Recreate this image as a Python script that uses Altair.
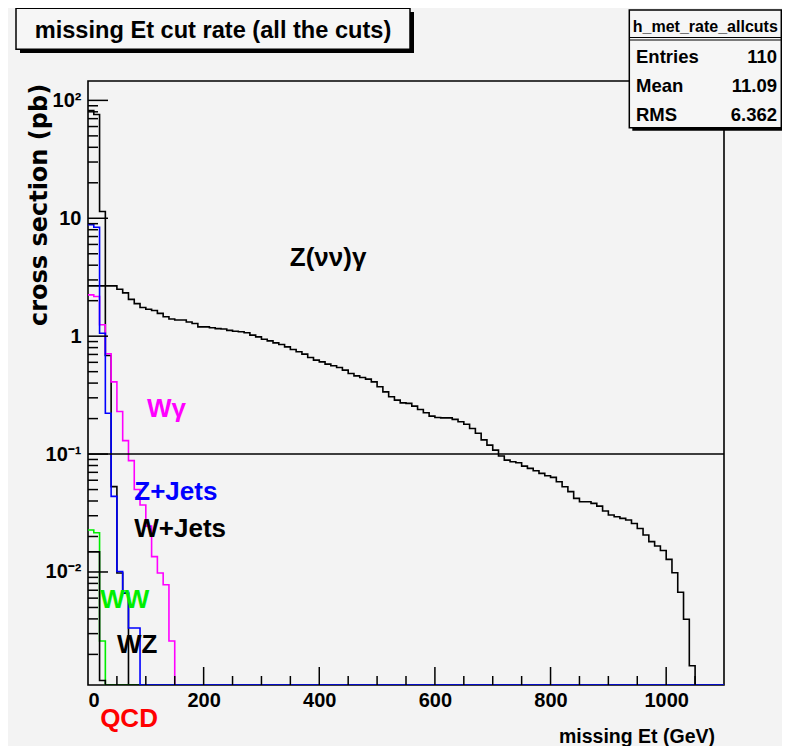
import altair as alt
import pandas as pd

# ---------------- data (cross section in pb per 10 GeV bin, starting at 0 GeV) ----------------
BIN_WIDTH = 10
N_BINS = 110
Y_MIN, Y_MAX = 0.0011, 146.0

zgamma = [2.67, 2.67, 2.67, 2.67, 2.67, 2.50, 2.33, 2.05, 1.89, 1.75,
          1.69, 1.65, 1.56, 1.46, 1.40, 1.37, 1.37, 1.32, 1.28, 1.20,
          1.20, 1.18, 1.16, 1.15, 1.12, 1.10, 1.09, 1.07, 1.02, 0.987,
          0.943, 0.913, 0.878, 0.850, 0.812, 0.771, 0.737, 0.704, 0.659, 0.626,
          0.606, 0.579, 0.561, 0.543, 0.515, 0.483, 0.461, 0.446, 0.432, 0.410,
          0.372, 0.337, 0.306, 0.287, 0.272, 0.269, 0.255, 0.239, 0.224, 0.210,
          0.2045, 0.203, 0.203, 0.197, 0.188, 0.179, 0.165, 0.150, 0.132, 0.119,
          0.108, 0.0962, 0.0889, 0.0861, 0.0845, 0.0791, 0.0757, 0.0723, 0.0686, 0.0655,
          0.0634, 0.0583, 0.0528, 0.0480, 0.0421, 0.0394, 0.0394, 0.0382, 0.0362, 0.0329,
          0.0304, 0.0294, 0.0285, 0.0276, 0.0258, 0.0234, 0.0206, 0.0181, 0.0166, 0.0152,
          0.0128, 0.00986, 0.00673, 0.00397, 0.00160]
wjets = [82.0, 76.0, 11.4, 0.686, 0.053, 0.0098, 0.0066]
zjets = [8.8, 8.4, 1.06, 0.222, 0.0438, 0.0101, 0.0067, 0.00335, 0.00335]
wgamma = [2.24, 2.17, 1.25, 0.71, 0.41, 0.23, 0.13, 0.088, 0.050, 0.037,
          0.0245, 0.0135, 0.0098, 0.0078, 0.0026]
ww = [0.0227, 0.0215, 0.0026]
wz = [0.0148, 0.0148, 0.0012]

series_values = [zgamma, wjets, wgamma, ww, wz, zjets]
series_colors = ["#000000", "#000000", "#ff00ff", "#00ee00", "#000000", "#0000ff"]

label_text = ["Z(\u03bd\u03bd)\u03b3", "W\u03b3", "Z+Jets", "W+Jets", "WW", "WZ", "QCD"]
label_x = [349, 102, 80, 80, 21, 50, 21]          # GeV
label_y = [3.92, 0.206, 0.0408, 0.0198, 0.00495, 0.00206, 0.000486]  # pb
label_color = ["#000000", "#ff00ff", "#0000ff", "#000000", "#00ee00", "#000000", "#ff0000"]

x_major = [200, 400, 600, 800, 1000]
x_minor = [50, 100, 150, 250, 300, 350, 450, 500, 550, 650, 700, 750, 850, 900, 950, 1050]
y_major = [0.01, 0.1, 1, 10, 100]
y_minor = [m * d for d in [0.001, 0.01, 0.1, 1, 10] for m in range(2, 10)]

stats_names = ["Entries", "Mean", "RMS"]
stats_vals = ["110", "11.09", "6.362"]

# ---------------- chart ----------------
W, H = 636, 604
FONT = "Liberation Sans"

xscale = alt.Scale(domain=[0, N_BINS * BIN_WIDTH], nice=False, zero=False)
yscale = alt.Scale(type="log", domain=[Y_MIN, Y_MAX], nice=False)

xaxis = alt.Axis(values=[0] + x_major, ticks=False, domain=False, grid=False,
                 labelFont=FONT, labelFontSize=20, labelFontWeight="bold",
                 labelColor="black", labelPadding=5, title=None, format="d")
yaxis = alt.Axis(values=y_major, ticks=False, domain=False, grid=False,
                 labelFont=FONT, labelFontSize=20, labelFontWeight="bold",
                 labelColor="black", labelPadding=7, title=None,
                 labelExpr="datum.value >= 50 ? '10\u00b2' : datum.value >= 5 ? '10' : "
                           "datum.value >= 0.5 ? '1' : datum.value >= 0.05 ? '10\u207b\u00b9' : '10\u207b\u00b2'")


def X(field):
    return alt.X(field, scale=xscale, axis=xaxis)


def Y(field):
    return alt.Y(field, scale=yscale, axis=yaxis)


def hist_df(vals):
    full = list(vals) + [0.0] * (N_BINS - len(vals))
    xs = [i * BIN_WIDTH for i in range(N_BINS)] + [N_BINS * BIN_WIDTH]
    ys = [max(v, Y_MIN) for v in full] + [max(full[-1], Y_MIN)]
    return pd.DataFrame({"x": xs, "y": ys})


layers = []
dummy = pd.DataFrame({"a": [0]})

for vals, col in zip(series_values, series_colors):
    layers.append(alt.Chart(hist_df(vals)).mark_line(
        interpolate="step-after", color=col, strokeWidth=1.6, clip=True
    ).encode(x=X("x:Q"), y=Y("y:Q")))

# horizontal line at 0.1
layers.append(alt.Chart(pd.DataFrame({"y": [0.1]})).mark_rule(color="black", strokeWidth=1.5).encode(
    y=Y("y:Q"), x=alt.value(0), x2=alt.value(W)))

# inward ticks
layers.append(alt.Chart(pd.DataFrame({"y": y_major})).mark_rule(color="black", strokeWidth=1.5).encode(
    y=Y("y:Q"), x=alt.value(0), x2=alt.value(20)))
layers.append(alt.Chart(pd.DataFrame({"y": y_minor})).mark_rule(color="black", strokeWidth=1.5, clip=True).encode(
    y=Y("y:Q"), x=alt.value(0), x2=alt.value(10)))
layers.append(alt.Chart(pd.DataFrame({"x": x_major})).mark_rule(color="black", strokeWidth=1.5).encode(
    x=X("x:Q"), y=alt.value(H), y2=alt.value(H - 18)))
layers.append(alt.Chart(pd.DataFrame({"x": x_minor})).mark_rule(color="black", strokeWidth=1.5).encode(
    x=X("x:Q"), y=alt.value(H), y2=alt.value(H - 9)))

# in-plot labels
lab_df = pd.DataFrame({"t": label_text, "x": label_x, "y": label_y, "c": label_color})
layers.append(alt.Chart(lab_df).mark_text(
    align="left", baseline="alphabetic", font=FONT, fontWeight="bold", fontSize=26
).encode(x=X("x:Q"), y=Y("y:Q"), text="t:N", color=alt.Color("c:N", scale=None)))

# axis titles
layers.append(alt.Chart(dummy).mark_text(
    text="cross section (pb)", font="DejaVu Sans", fontWeight="bold", fontSize=24,
    angle=270, align="center", baseline="middle", color="black"
).encode(x=alt.value(-48), y=alt.value(124)))
layers.append(alt.Chart(dummy).mark_text(
    text="missing Et (GeV)", font=FONT, fontWeight="bold", fontSize=19.5,
    align="right", baseline="alphabetic", color="black"
).encode(x=alt.value(627), y=alt.value(662)))

# title box
layers.append(alt.Chart(dummy).mark_rect(color="black").encode(
    x=alt.value(-68), x2=alt.value(326), y=alt.value(-69), y2=alt.value(-28)))
layers.append(alt.Chart(dummy).mark_rect(fill="#f6f6f6", stroke="black", strokeWidth=1.5).encode(
    x=alt.value(-72), x2=alt.value(322), y=alt.value(-72.7), y2=alt.value(-31.7)))
layers.append(alt.Chart(dummy).mark_text(
    text="missing Et cut rate (all the cuts)", font=FONT, fontWeight="bold", fontSize=23.6,
    align="center", baseline="alphabetic", color="black"
).encode(x=alt.value(125), y=alt.value(-42.7)))

# stats box
SX0, SX1, SY0, SY1 = 541.3, 693.3, -71, 46.7
layers.append(alt.Chart(dummy).mark_rect(color="black").encode(
    x=alt.value(SX0 + 3), x2=alt.value(SX1 + 3), y=alt.value(SY0 + 3), y2=alt.value(SY1 + 3)))
layers.append(alt.Chart(dummy).mark_rect(fill="#f6f6f6", stroke="black", strokeWidth=1.5).encode(
    x=alt.value(SX0), x2=alt.value(SX1), y=alt.value(SY0), y2=alt.value(SY1)))
for sep in (-43.5, -41.0):
    layers.append(alt.Chart(dummy).mark_rule(color="black", strokeWidth=1.2).encode(
        y=alt.value(sep), x=alt.value(SX0), x2=alt.value(SX1)))
layers.append(alt.Chart(dummy).mark_text(
    text="h_met_rate_allcuts", font=FONT, fontWeight="bold", fontSize=16,
    align="center", baseline="alphabetic", color="black"
).encode(x=alt.value((SX0 + SX1) / 2), y=alt.value(-49.3)))
for name, val, yy in zip(stats_names, stats_vals, [-17.7, 10.7, 39.7]):
    layers.append(alt.Chart(dummy).mark_text(
        text=name, font=FONT, fontWeight="bold", fontSize=18.5, align="left",
        baseline="alphabetic", color="black"
    ).encode(x=alt.value(548), y=alt.value(yy)))
    layers.append(alt.Chart(dummy).mark_text(
        text=val, font=FONT, fontWeight="bold", fontSize=18.5, align="right",
        baseline="alphabetic", color="black"
    ).encode(x=alt.value(689), y=alt.value(yy)))

chart = alt.layer(*layers).properties(
    width=W, height=H,
    padding={"left": 80, "top": 73, "right": 58, "bottom": 61},
    autosize=alt.AutoSizeParams(type="none"),
    background="#f3f3f3",
).configure_view(stroke="black", strokeWidth=1.6)

chart.save("out.html", embed_options={"renderer": "svg", "actions": False})
